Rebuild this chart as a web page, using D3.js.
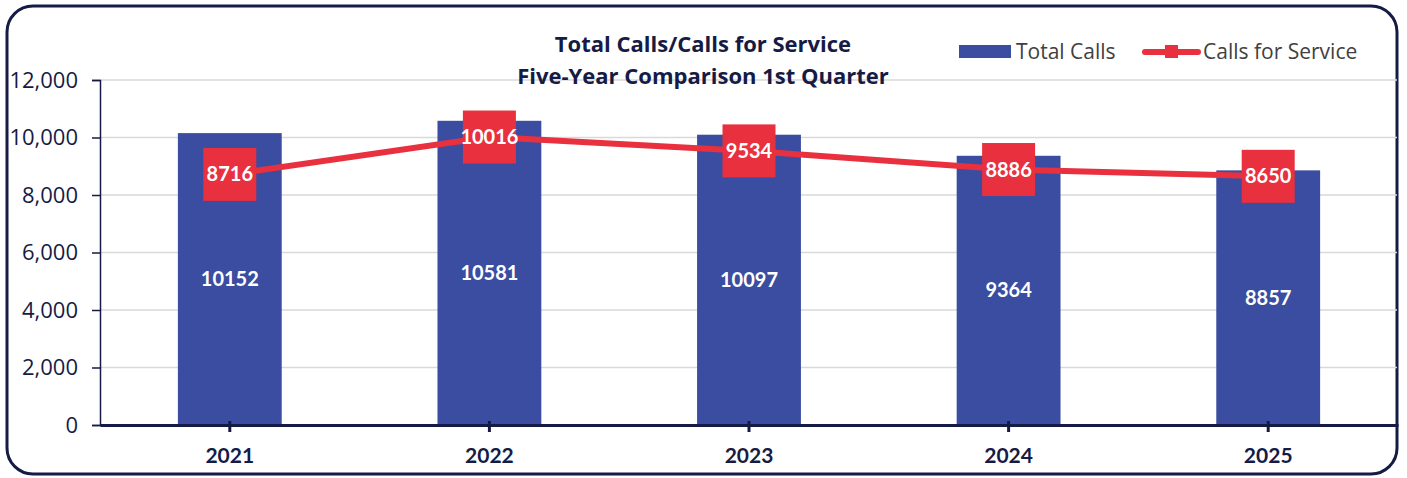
<!DOCTYPE html>
<html lang="en">
<head>
<meta charset="utf-8">
<script src="https://d3js.org/d3.v7.min.js"></script>
<style>
  body { margin: 0; background: #fff; }
  svg text { font-family: Lato, "Open Sans", sans-serif; }
  svg .os { font-family: "Open Sans", sans-serif; }
</style>
</head>
<body>
<script>
  // chart data
  const years = ["2021", "2022", "2023", "2024", "2025"];
  const totalCalls = [10152, 10581, 10097, 9364, 8857];
  const callsForService = [8716, 10016, 9534, 8886, 8650];
  const yTicks = [0, 2000, 4000, 6000, 8000, 10000, 12000];

  const W = 1407, H = 478;
  const navy = "#161b45", blue = "#3a4da0", red = "#e8303f";

  const svg = d3.select("body").append("svg")
    .attr("width", W).attr("height", H);

  // rounded frame
  svg.append("rect")
    .attr("x", 7).attr("y", 6).attr("width", 1390).attr("height", 468)
    .attr("rx", 26).attr("ry", 26)
    .attr("fill", "#fff").attr("stroke", navy).attr("stroke-width", 3);

  const x = d3.scaleBand().domain(years).range([100, 1398]).paddingInner(0.6).paddingOuter(0.3);
  const y = d3.scaleLinear().domain([0, 12000]).range([425, 80]);

  // gridlines
  svg.append("g").selectAll("line").data(yTicks.slice(1)).join("line")
    .attr("x1", 100).attr("x2", 1397)
    .attr("y1", d => y(d)).attr("y2", d => y(d))
    .attr("stroke", "#d9d9d9").attr("stroke-width", 1.5);

  // y axis
  const yAxis = svg.append("g").attr("transform", "translate(100,0)")
    .call(d3.axisLeft(y).tickValues(yTicks).tickFormat(d3.format(",")).tickSize(8).tickPadding(14));
  yAxis.select(".domain").attr("stroke", navy).attr("stroke-width", 1.5);
  yAxis.selectAll(".tick line").attr("stroke", navy).attr("stroke-width", 1.5);
  yAxis.selectAll("text").attr("class", "os").attr("font-size", 22).attr("fill", navy);

  // bars
  svg.append("g").selectAll("rect").data(totalCalls).join("rect")
    .attr("x", (d, i) => x(years[i]))
    .attr("width", x.bandwidth())
    .attr("y", d => y(d))
    .attr("height", d => y(0) - y(d))
    .attr("fill", blue);

  svg.append("g").selectAll("text").data(totalCalls).join("text")
    .attr("x", (d, i) => x(years[i]) + x.bandwidth() / 2)
    .attr("y", d => (y(d) + y(0)) / 2)
    .attr("dy", "0.35em")
    .attr("text-anchor", "middle")
    .attr("font-size", 20).attr("font-weight", "bold").attr("fill", "#fff")
    .text(d => d);

  // x axis
  const xAxis = svg.append("g").attr("transform", "translate(0,425)")
    .call(d3.axisBottom(x).tickSize(7).tickSizeOuter(0).tickPadding(16));
  xAxis.select(".domain").attr("stroke", navy).attr("stroke-width", 3);
  xAxis.selectAll(".tick line").attr("stroke", navy).attr("stroke-width", 3).attr("y1", -4);
  xAxis.selectAll("text").attr("font-size", 21).attr("font-weight", "bold").attr("fill", navy);

  // line series
  const cx = i => x(years[i]) + x.bandwidth() / 2;
  const line = d3.line().x((d, i) => cx(i)).y(d => y(d));
  svg.append("path").datum(callsForService)
    .attr("d", line).attr("fill", "none")
    .attr("stroke", red).attr("stroke-width", 6).attr("stroke-linecap", "round");

  const m = 53;
  svg.append("g").selectAll("rect").data(callsForService).join("rect")
    .attr("x", (d, i) => cx(i) - m / 2).attr("y", d => y(d) - m / 2)
    .attr("width", m).attr("height", m).attr("fill", red);

  svg.append("g").selectAll("text").data(callsForService).join("text")
    .attr("x", (d, i) => cx(i)).attr("y", d => y(d))
    .attr("dy", "0.35em").attr("text-anchor", "middle")
    .attr("font-size", 20).attr("font-weight", "bold").attr("fill", "#fff")
    .text(d => d);

  // title
  const title = svg.append("text").attr("class", "os").attr("text-anchor", "middle")
    .attr("font-size", 22).attr("font-weight", "bold").attr("fill", navy);
  title.append("tspan").attr("x", 703).attr("y", 52).text("Total Calls/Calls for Service");
  title.append("tspan").attr("x", 703).attr("y", 84).text("Five-Year Comparison 1st Quarter");

  // legend
  const lg = svg.append("g").attr("font-size", 21).attr("fill", "#404040");
  lg.append("rect").attr("x", 959).attr("y", 45).attr("width", 52).attr("height", 13).attr("fill", blue);
  lg.append("text").attr("class", "os").attr("x", 1016).attr("y", 52).attr("dy", "0.35em").text("Total Calls");
  lg.append("line").attr("x1", 1145).attr("x2", 1198).attr("y1", 52).attr("y2", 52)
    .attr("stroke", red).attr("stroke-width", 6).attr("stroke-linecap", "round");
  lg.append("rect").attr("x", 1165).attr("y", 45).attr("width", 13).attr("height", 13).attr("fill", red);
  lg.append("text").attr("class", "os").attr("x", 1203).attr("y", 52).attr("dy", "0.35em").text("Calls for Service");
</script>
</body>
</html>
